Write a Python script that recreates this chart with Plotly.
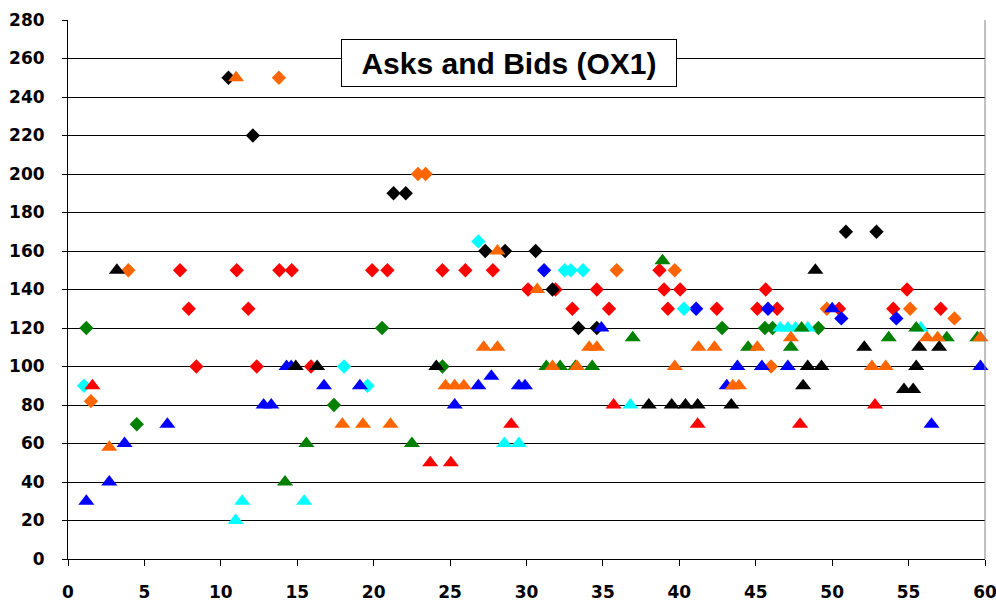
import plotly.graph_objects as go

# values (x = trade number, y = price)
black_bid_x = [10.5, 12.1, 21.3, 22.1, 27.3, 28.6, 30.6, 31.7, 33.4, 34.6, 50.9, 52.9]
black_bid_y = [250, 220, 190, 190, 160, 160, 160, 140, 120, 120, 170, 170]
black_ask_x = [3.2, 14.9, 16.3, 24.1, 38.0, 39.5, 40.4, 41.2, 43.4, 48.9, 48.4, 49.3,
               55.5, 52.1, 55.7, 57.0, 48.1, 54.7, 55.3]
black_ask_y = [150, 100, 100, 100, 80, 80, 80, 80, 80, 150, 100, 100,
               100, 110, 110, 110, 90, 88, 88]

orange_bid_x = [13.8, 22.9, 23.4, 3.95, 1.5, 35.9, 39.7, 49.65, 55.1, 58.0, 46.0]
orange_bid_y = [250, 200, 200, 150, 82, 150, 150, 130, 130, 125, 100]
orange_ask_x = [11.0, 2.7, 17.95, 19.3, 21.1, 28.1, 27.2, 28.1, 24.7, 25.3, 25.9, 30.7,
                34.1, 34.6, 31.7, 33.3, 39.7, 41.25, 42.3, 45.1, 43.5, 43.9, 47.3,
                56.2, 56.9, 59.7, 52.6, 53.5]
orange_ask_y = [250, 58, 70, 70, 70, 160, 110, 110, 90, 90, 90, 140,
                110, 110, 100, 100, 100, 110, 110, 110, 90, 90, 115,
                115, 115, 115, 100, 100]

red_bid_x = [7.33, 11.04, 13.83, 14.64, 19.9, 20.9, 24.5, 26.0, 27.8, 7.9, 11.8, 8.4,
             12.35, 15.9, 30.1, 31.9, 34.6, 39.0, 40.05, 38.7, 33.0, 35.4, 39.25,
             42.45, 45.65, 54.9, 45.1, 46.4, 50.45, 54.0, 57.1]
red_bid_y = [150, 150, 150, 150, 150, 150, 150, 150, 150, 130, 130, 100,
             100, 100, 140, 140, 140, 140, 140, 150, 130, 130, 130,
             130, 140, 140, 130, 130, 130, 130, 130]
red_ask_x = [1.6, 23.7, 25.05, 29.0, 35.7, 41.2, 47.9, 52.8]
red_ask_y = [90, 50, 50, 70, 80, 70, 70, 80]

blue_bid_x = [31.15, 41.1, 45.8, 50.6, 54.2]
blue_bid_y = [150, 130, 130, 125, 125]
blue_ask_x = [1.2, 2.7, 3.7, 6.5, 12.8, 13.3, 14.3, 14.6, 16.75, 19.1, 26.85, 27.7,
              29.5, 29.9, 25.3, 34.9, 43.8, 43.1, 45.4, 47.1, 59.7, 50.0, 56.5]
blue_ask_y = [30, 40, 60, 70, 80, 80, 100, 100, 90, 90, 90, 95,
              90, 90, 80, 120, 100, 90, 100, 100, 100, 130, 70]

green_bid_x = [1.2, 4.5, 17.4, 20.55, 24.5, 42.8, 45.6, 46.1, 49.1]
green_bid_y = [120, 70, 80, 120, 100, 120, 120, 120, 120]
green_ask_x = [14.2, 15.6, 22.5, 38.9, 36.95, 31.3, 32.2, 33.2, 34.3, 44.5, 47.3, 48.0,
               53.7, 55.5, 57.5, 59.5]
green_ask_y = [40, 60, 60, 155, 115, 100, 100, 100, 100, 110, 110, 120,
               115, 120, 115, 115]

cyan_bid_x = [1.05, 18.06, 19.6, 26.85, 32.5, 32.9, 33.7, 40.3]
cyan_bid_y = [90, 100, 90, 165, 150, 150, 150, 130]
cyan_ask_x = [10.97, 11.4, 15.45, 28.55, 29.5, 36.8, 46.6, 47.1, 47.6, 48.4, 55.8]
cyan_ask_y = [20, 30, 30, 60, 60, 80, 120, 120, 120, 120, 120]

# draw order: bids (diamonds) first, asks (triangles) on top
series = [
    ("red", red_bid_x, red_bid_y, "diamond"),
    ("green", green_bid_x, green_bid_y, "diamond"),
    ("blue", blue_bid_x, blue_bid_y, "diamond"),
    ("cyan", cyan_bid_x, cyan_bid_y, "diamond"),
    ("orange", orange_bid_x, orange_bid_y, "diamond"),
    ("black", black_bid_x, black_bid_y, "diamond"),
    ("red", red_ask_x, red_ask_y, "triangle-up"),
    ("blue", blue_ask_x, blue_ask_y, "triangle-up"),
    ("cyan", cyan_ask_x, cyan_ask_y, "triangle-up"),
    ("green", green_ask_x, green_ask_y, "triangle-up"),
    ("black", black_ask_x, black_ask_y, "triangle-up"),
    ("orange", orange_ask_x, orange_ask_y, "triangle-up"),
]
colors = {"red": "#FF0000", "green": "#008000", "blue": "#0000FF",
          "cyan": "#00FFFF", "orange": "#FF6600", "black": "#000000"}

fig = go.Figure()
for name, xs, ys, sym in series:
    fig.add_trace(go.Scatter(
        x=xs, y=ys, mode="markers", name=name, cliponaxis=False,
        marker=dict(symbol=sym, color=colors[name], size=11 if sym == "diamond" else 14,
                    line=dict(width=0)),
    ))

tick_font = dict(family="DejaVu Sans", size=17, color="black", weight="bold")

fig.update_layout(
    width=996, height=605,
    margin=dict(l=68, r=11, t=20, b=46),
    paper_bgcolor="white", plot_bgcolor="white",
    showlegend=False,
    xaxis=dict(range=[0, 60], dtick=5, showgrid=False, zeroline=False,
               showline=True, linecolor="black", linewidth=1, mirror=False,
               ticks="outside", ticklen=6, tickcolor="black", automargin=False,
               ticklabeloverflow="allow",
               tickfont=tick_font, ticklabelstandoff=12),
    yaxis=dict(range=[0, 280], dtick=20, showgrid=True, gridcolor="black", gridwidth=1,
               zeroline=False, showline=True, linecolor="black", linewidth=1,
               ticks="outside", ticklen=5, tickcolor="black", automargin=False,
               ticklabeloverflow="allow",
               tickfont=tick_font, ticklabelstandoff=14),
    shapes=[dict(type="line", xref="paper", yref="paper", x0=1, x1=1, y0=0, y1=1,
                 line=dict(color="#808080", width=1))],
    annotations=[dict(
        x=28.86, y=257.7, xref="x", yref="y", text="Asks and Bids (OX1)",
        showarrow=False, font=dict(family="Liberation Sans", size=30, color="black",
                                    weight="bold"),
        bgcolor="white", bordercolor="black", borderwidth=1, borderpad=1,
        width=332, height=44, align="center",
    )],
)

# page body has an 8px default margin; drop it so the figure sits at the corner
fig.write_html("out.html", config={"displayModeBar": False},
               post_script="document.body.style.margin='0px';")
